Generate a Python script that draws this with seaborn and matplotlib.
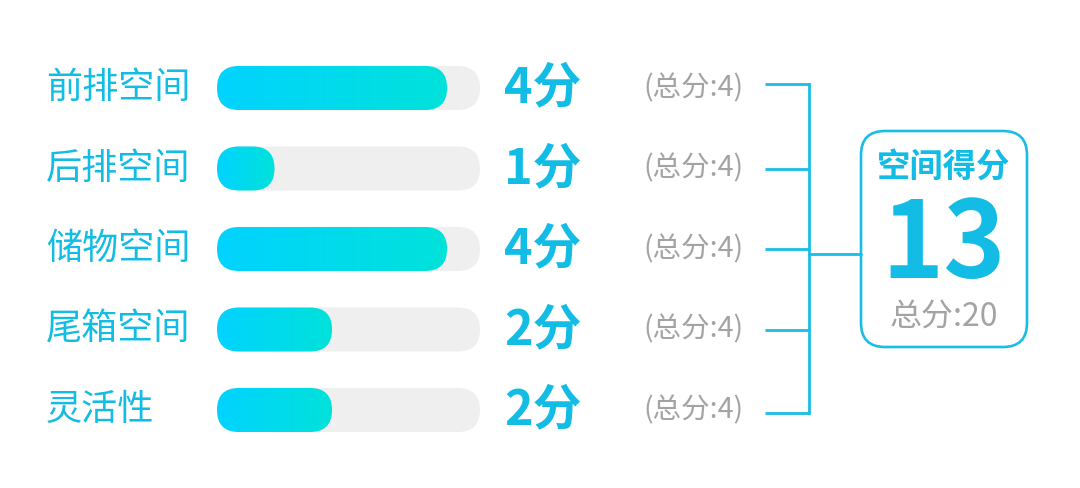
import seaborn as sns
import matplotlib.pyplot as plt
import numpy as np
import pandas as pd
from matplotlib.patches import FancyBboxPatch
from matplotlib.colors import LinearSegmentedColormap

# Data
items = ["前排空间", "后排空间", "储物空间", "尾箱空间", "灵活性"]
scores = [4, 1, 4, 2, 2]
item_totals = [4, 4, 4, 4, 4]
total_score = 13
total_max = 20

# Styling
sns.set_style("white")
plt.rcParams["font.family"] = ["Noto Sans CJK SC", "DejaVu Sans"]

CYAN = "#12BCE4"
LINE = "#1ABDE6"
GRAY = "#A3A3A3"
TRACK = "#EFEFEF"
grad = LinearSegmentedColormap.from_list("g", ["#00D3FF", "#00E2DA"])

W, H = 1080, 488
fig = plt.figure(figsize=(W / 100, H / 100), dpi=100)

# overlay axes in pixel units (top-left origin)
ax = fig.add_axes([0, 0, 1, 1])
ax.set_xlim(0, W)
ax.set_ylim(H, 0)
ax.axis("off")

# bar axes: one row per item
row_top, row_step = 88, 80.5
bar_x0, bar_x1 = 217, 480
y_top = row_top - row_step / 2
y_bot = y_top + row_step * len(items)
ax_bar = fig.add_axes([bar_x0 / W, 1 - y_bot / H, (bar_x1 - bar_x0) / W, (y_bot - y_top) / H])
ax_bar.set_zorder(2)
ax_bar.patch.set_alpha(0)

df = pd.DataFrame({"item": items, "score": scores, "total": item_totals})
xmax = max(item_totals) * 1.143
df["track"] = xmax
sns.barplot(data=df, x="track", y="item", orient="h", color=TRACK, width=0.547, ax=ax_bar)
n_track = len(ax_bar.patches)
sns.barplot(data=df, x="score", y="item", orient="h", color=CYAN, width=0.547, ax=ax_bar)
ax_bar.set_xlim(0, xmax)
ax_bar.set_ylim(len(items) - 0.5, -0.5)
ax_bar.axis("off")

# units per pixel, for round caps
xu = xmax / (bar_x1 - bar_x0)
yu = len(items) / (y_bot - y_top)

patches = list(ax_bar.patches)
for k, p in enumerate(patches):
    x, y = p.get_x(), p.get_y()
    w, h = p.get_width(), p.get_height()
    p.remove()
    r = h / yu / 2 * xu
    fb = FancyBboxPatch((x, y), w, h, boxstyle=f"round,pad=0,rounding_size={r}",
                        mutation_aspect=yu / xu, linewidth=0,
                        facecolor=TRACK if k < n_track else "none")
    ax_bar.add_patch(fb)
    if k >= n_track:
        im = ax_bar.imshow(np.linspace(0, 1, 256)[None, :], cmap=grad, aspect="auto",
                           extent=(x, x + w, y + h, y), zorder=3)
        im.set_clip_path(fb)
ax_bar.set_xlim(0, xmax)
ax_bar.set_ylim(len(items) - 0.5, -0.5)

# row texts
for i, (name, s, t) in enumerate(zip(items, scores, item_totals)):
    yc = row_top + i * row_step
    ax.text(46, yc, name, fontsize=26, color=CYAN, ha="left", va="center")
    ax.text(504, yc, f"{s}分", fontsize=35, fontweight="bold", color=CYAN, ha="left", va="center")
    ax.text(643, yc, f"(总分:{t})", fontsize=20.5, color=GRAY, ha="left", va="center")

# bracket
y_first = row_top - 4
y_last = row_top + row_step * (len(items) - 1) + 3
for i in range(len(items)):
    yy = row_top + i * row_step + (-4 if i == 0 else 3 if i == len(items) - 1 else 0)
    ax.plot([765, 809], [yy, yy], color=LINE, lw=2, solid_capstyle="butt")
ax.plot([809, 809], [y_first, y_last], color=LINE, lw=2, solid_capstyle="projecting")
ax.plot([809, 861], [254, 254], color=LINE, lw=2)

# summary box
box = FancyBboxPatch((861, 131), 166, 216, boxstyle="round,pad=0,rounding_size=24",
                     facecolor="white", edgecolor=LINE, linewidth=1.9)
ax.add_patch(box)
cx = 944
ax.text(cx, 168, "空间得分", fontsize=24, fontweight="bold", color=CYAN, ha="center", va="center")
ax.text(cx, 247, f"{total_score}", fontsize=76, fontweight="bold", color=CYAN, ha="center", va="center")
ax.text(cx, 318, f"总分:{total_max}", fontsize=23, color=GRAY, ha="center", va="center")

fig.savefig("out.png", dpi=100, facecolor="white")
